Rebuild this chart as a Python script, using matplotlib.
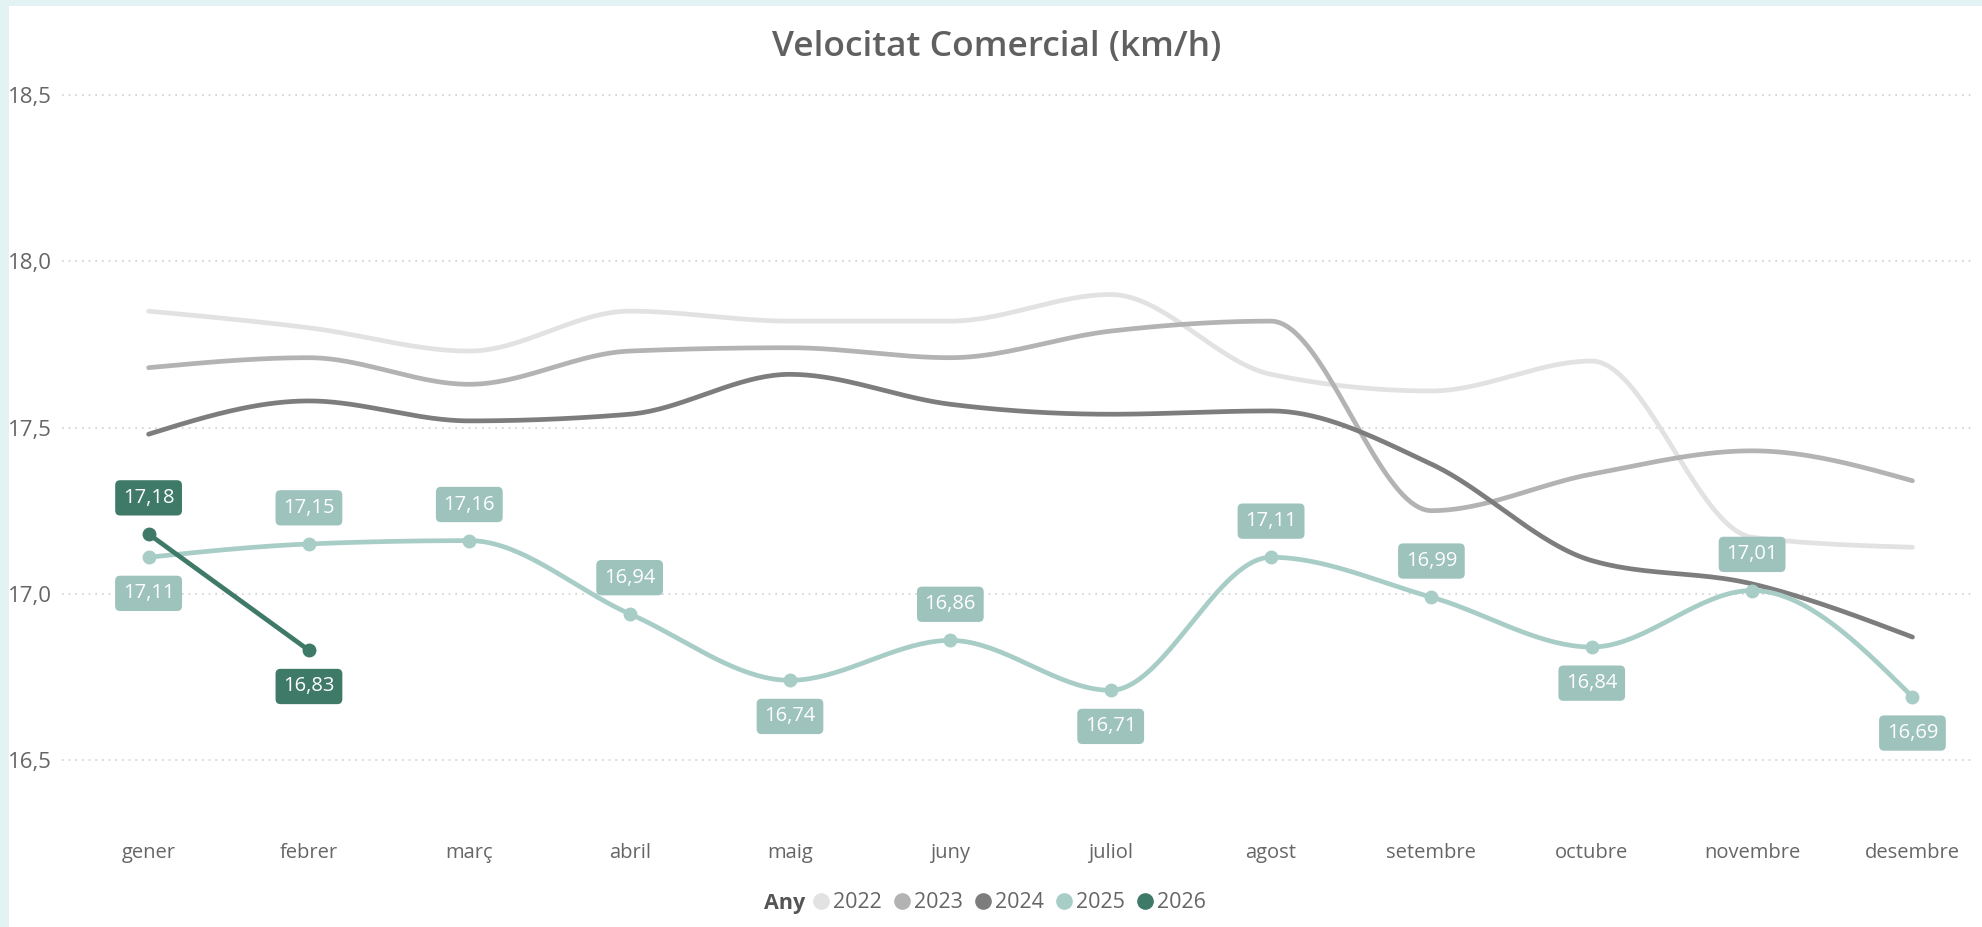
import matplotlib.pyplot as plt
import numpy as np
from matplotlib.lines import Line2D
from matplotlib.patches import Rectangle

months = ["gener", "febrer", "març", "abril", "maig", "juny", "juliol",
          "agost", "setembre", "octubre", "novembre", "desembre"]
years = ["2022", "2023", "2024", "2025", "2026"]

v2022 = [17.85, 17.80, 17.73, 17.85, 17.82, 17.82, 17.90, 17.66, 17.61, 17.70, 17.17, 17.14]
v2023 = [17.68, 17.71, 17.63, 17.73, 17.74, 17.71, 17.79, 17.82, 17.25, 17.36, 17.43, 17.34]
v2024 = [17.48, 17.58, 17.52, 17.54, 17.66, 17.57, 17.54, 17.55, 17.39, 17.10, 17.03, 16.87]
v2025 = [17.11, 17.15, 17.16, 16.94, 16.74, 16.86, 16.71, 17.11, 16.99, 16.84, 17.01, 16.69]
v2026 = [17.18, 16.83]

y_ticks = [16.5, 17.0, 17.5, 18.0, 18.5]

colors = {"2022": "#e2e2e2", "2023": "#b3b3b3", "2024": "#7d7d7d",
          "2025": "#a8cdc7", "2026": "#3f7a68"}
box_colors = {"2025": "#9dc3bc", "2026": "#3f7a68"}

# label above (+1) or below (-1) the point
side_2025 = [-1, 1, 1, 1, -1, 1, -1, 1, 1, -1, 1, -1]
side_2026 = [1, -1]

FONT = "Open Sans"
TXT = "#666666"


def monotone_x(y, n=40):
    """Smooth curve like d3.curveMonotoneX through points at x = 0..len-1."""
    y = np.asarray(y, dtype=float)
    k = len(y)
    if k < 3:
        return np.arange(k, dtype=float), y
    s = np.diff(y)
    m = np.zeros(k)
    for i in range(1, k - 1):
        s0, s1 = s[i - 1], s[i]
        p = (s0 + s1) / 2
        m[i] = (np.sign(s0) + np.sign(s1)) * min(abs(s0), abs(s1), 0.5 * abs(p))
    m[0] = (3 * s[0] - m[1]) / 2
    m[-1] = (3 * s[-1] - m[-2]) / 2
    xs, ys = [], []
    t = np.linspace(0, 1, n)
    h00 = 2 * t**3 - 3 * t**2 + 1
    h10 = t**3 - 2 * t**2 + t
    h01 = -2 * t**3 + 3 * t**2
    h11 = t**3 - t**2
    for i in range(k - 1):
        xs.append(i + t)
        ys.append(h00 * y[i] + h10 * m[i] + h01 * y[i + 1] + h11 * m[i + 1])
    return np.concatenate(xs), np.concatenate(ys)


fig = plt.figure(figsize=(19.82, 9.27), dpi=100, facecolor="#e3f3f3")
fig.add_artist(Rectangle((9 / 1982, 0), 1, 1 - 6 / 927, transform=fig.transFigure,
                         facecolor="white", edgecolor="none", zorder=0))

ax = fig.add_axes([62 / 1982, 1 - 815 / 927, (1975 - 62) / 1982, (815 - 80) / 927])
ax.set_facecolor("none")
ax.set_xlim(-0.54, 11.39)
ax.set_ylim(16.335, 18.545)

for spine in ax.spines.values():
    spine.set_visible(False)

ax.set_yticks(y_ticks)
ax.set_yticklabels([f"{v:.1f}".replace(".", ",") for v in y_ticks])
ax.set_xticks(range(len(months)))
ax.set_xticklabels(months)
ax.tick_params(axis="both", length=0, colors=TXT)
ax.tick_params(axis="y", pad=7, labelsize=16)
ax.tick_params(axis="x", pad=20, labelsize=14.5)
for lab in ax.get_xticklabels() + ax.get_yticklabels():
    lab.set_fontfamily(FONT)
ax.grid(axis="y", color="#cfcfcf", linestyle=(0, (1, 3)), linewidth=1.2)
ax.set_axisbelow(True)

series = {"2022": v2022, "2023": v2023, "2024": v2024, "2025": v2025, "2026": v2026}
for year in years:
    vals = series[year]
    xs, ys = monotone_x(vals)
    ax.plot(xs, ys, color=colors[year], linewidth=3.4, solid_capstyle="round", zorder=3)

for year, sides in (("2025", side_2025), ("2026", side_2026)):
    vals = series[year]
    ax.plot(range(len(vals)), vals, linestyle="none", marker="o", markersize=9,
            color=colors[year], zorder=4)
    for i, (v, sd) in enumerate(zip(vals, sides)):
        ax.annotate(f"{v:.2f}".replace(".", ","), (i, v), xytext=(0, 26 * sd),
                    textcoords="offset points", ha="center", va="center",
                    fontsize=14.5, color="white", family=FONT, zorder=6,
                    bbox=dict(boxstyle="round,pad=0.38,rounding_size=0.25",
                              facecolor=box_colors[year], edgecolor="none"))

fig.text(0.503, 1 - 47 / 927, "Velocitat Comercial (km/h)", ha="center", va="center",
         fontsize=25.5, color="#606060", family=FONT, fontweight="semibold")

handles = [Line2D([], [], linestyle="none", marker="o", markersize=12,
                  markerfacecolor=colors[y], markeredgecolor="none") for y in years]
fig.legend(handles, years, loc="center", bbox_to_anchor=(1008 / 1982, 1 - 903 / 927),
           ncol=5, frameon=False, handletextpad=0.05, columnspacing=0.45,
           handlelength=1.0, prop={"family": FONT, "size": 15.5}, labelcolor=TXT)
fig.text(785 / 1982, 1 - 903 / 927, "Any", ha="center", va="center", fontsize=15.5,
         color="#555555", family=FONT, fontweight="bold")

fig.savefig("out.png", dpi=100)
